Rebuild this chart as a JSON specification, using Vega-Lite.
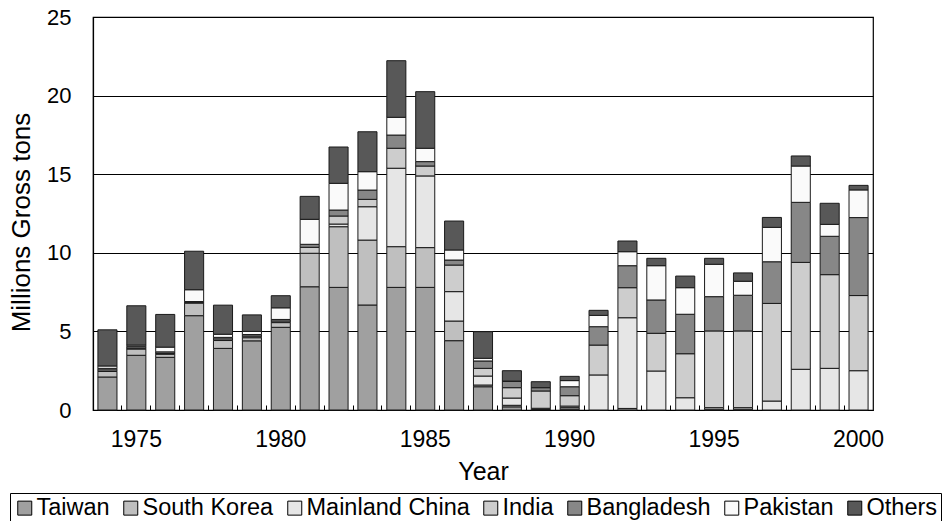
{
  "$schema": "https://vega.github.io/schema/vega-lite/v6.json",
  "autosize": {"type": "none"},
  "padding": {"left": 93, "top": 17, "right": 79, "bottom": 111},
  "width": 780,
  "height": 393,
  "config": {
    "font": "Liberation Sans",
    "view": {"stroke": "#000", "strokeWidth": 1.2},
    "axis": {"labelColor": "#000", "titleColor": "#000", "domainColor": "#000", "tickColor": "#000"}
  },
  "datasets": {
    "stackOrder": [
      {"country": "Taiwan", "rank": 1}, {"country": "South Korea", "rank": 2}, {"country": "Mainland China", "rank": 3},
      {"country": "India", "rank": 4}, {"country": "Bangladesh", "rank": 5}, {"country": "Pakistan", "rank": 6}, {"country": "Others", "rank": 7}
    ]
  },
  "data": {"values": [
    {"year":1974,"country":"Taiwan","tons":2.1},{"year":1974,"country":"South Korea","tons":0.35},{"year":1974,"country":"India","tons":0.1},{"year":1974,"country":"Bangladesh","tons":0.1},{"year":1974,"country":"Pakistan","tons":0.15},{"year":1974,"country":"Others","tons":2.3},
    {"year":1975,"country":"Taiwan","tons":3.48},{"year":1975,"country":"South Korea","tons":0.4},{"year":1975,"country":"India","tons":0.05},{"year":1975,"country":"Bangladesh","tons":0.1},{"year":1975,"country":"Pakistan","tons":0.1},{"year":1975,"country":"Others","tons":2.5},
    {"year":1976,"country":"Taiwan","tons":3.35},{"year":1976,"country":"South Korea","tons":0.2},{"year":1976,"country":"India","tons":0.05},{"year":1976,"country":"Bangladesh","tons":0.1},{"year":1976,"country":"Pakistan","tons":0.3},{"year":1976,"country":"Others","tons":2.08},
    {"year":1977,"country":"Taiwan","tons":6.0},{"year":1977,"country":"South Korea","tons":0.8},{"year":1977,"country":"India","tons":0.05},{"year":1977,"country":"Bangladesh","tons":0.05},{"year":1977,"country":"Pakistan","tons":0.75},{"year":1977,"country":"Others","tons":2.45},
    {"year":1978,"country":"Taiwan","tons":3.92},{"year":1978,"country":"South Korea","tons":0.5},{"year":1978,"country":"India","tons":0.1},{"year":1978,"country":"Bangladesh","tons":0.1},{"year":1978,"country":"Pakistan","tons":0.2},{"year":1978,"country":"Others","tons":1.85},
    {"year":1979,"country":"Taiwan","tons":4.4},{"year":1979,"country":"South Korea","tons":0.2},{"year":1979,"country":"India","tons":0.1},{"year":1979,"country":"Bangladesh","tons":0.1},{"year":1979,"country":"Pakistan","tons":0.2},{"year":1979,"country":"Others","tons":1.05},
    {"year":1980,"country":"Taiwan","tons":5.26},{"year":1980,"country":"South Korea","tons":0.3},{"year":1980,"country":"India","tons":0.1},{"year":1980,"country":"Bangladesh","tons":0.1},{"year":1980,"country":"Pakistan","tons":0.74},{"year":1980,"country":"Others","tons":0.77},
    {"year":1981,"country":"Taiwan","tons":7.84},{"year":1981,"country":"South Korea","tons":2.13},{"year":1981,"country":"India","tons":0.38},{"year":1981,"country":"Bangladesh","tons":0.19},{"year":1981,"country":"Pakistan","tons":1.59},{"year":1981,"country":"Others","tons":1.46},
    {"year":1982,"country":"Taiwan","tons":7.8},{"year":1982,"country":"South Korea","tons":3.86},{"year":1982,"country":"Mainland China","tons":0.17},{"year":1982,"country":"India","tons":0.51},{"year":1982,"country":"Bangladesh","tons":0.38},{"year":1982,"country":"Pakistan","tons":1.7},{"year":1982,"country":"Others","tons":2.31},
    {"year":1983,"country":"Taiwan","tons":6.68},{"year":1983,"country":"South Korea","tons":4.13},{"year":1983,"country":"Mainland China","tons":2.12},{"year":1983,"country":"India","tons":0.47},{"year":1983,"country":"Bangladesh","tons":0.59},{"year":1983,"country":"Pakistan","tons":1.17},{"year":1983,"country":"Others","tons":2.54},
    {"year":1984,"country":"Taiwan","tons":7.8},{"year":1984,"country":"South Korea","tons":2.59},{"year":1984,"country":"Mainland China","tons":4.99},{"year":1984,"country":"India","tons":1.27},{"year":1984,"country":"Bangladesh","tons":0.84},{"year":1984,"country":"Pakistan","tons":1.13},{"year":1984,"country":"Others","tons":3.6},
    {"year":1985,"country":"Taiwan","tons":7.8},{"year":1985,"country":"South Korea","tons":2.53},{"year":1985,"country":"Mainland China","tons":4.56},{"year":1985,"country":"India","tons":0.63},{"year":1985,"country":"Bangladesh","tons":0.28},{"year":1985,"country":"Pakistan","tons":0.85},{"year":1985,"country":"Others","tons":3.6},
    {"year":1986,"country":"Taiwan","tons":4.41},{"year":1986,"country":"South Korea","tons":1.25},{"year":1986,"country":"Mainland China","tons":1.87},{"year":1986,"country":"India","tons":1.69},{"year":1986,"country":"Bangladesh","tons":0.32},{"year":1986,"country":"Pakistan","tons":0.64},{"year":1986,"country":"Others","tons":1.84},
    {"year":1987,"country":"Taiwan","tons":1.48},{"year":1987,"country":"South Korea","tons":0.11},{"year":1987,"country":"Mainland China","tons":0.57},{"year":1987,"country":"India","tons":0.49},{"year":1987,"country":"Bangladesh","tons":0.47},{"year":1987,"country":"Pakistan","tons":0.17},{"year":1987,"country":"Others","tons":1.69},
    {"year":1988,"country":"Taiwan","tons":0.2},{"year":1988,"country":"South Korea","tons":0.1},{"year":1988,"country":"Mainland China","tons":0.46},{"year":1988,"country":"India","tons":0.66},{"year":1988,"country":"Bangladesh","tons":0.4},{"year":1988,"country":"Pakistan","tons":0.02},{"year":1988,"country":"Others","tons":0.66},
    {"year":1989,"country":"South Korea","tons":0.03},{"year":1989,"country":"Mainland China","tons":0.08},{"year":1989,"country":"India","tons":1.1},{"year":1989,"country":"Bangladesh","tons":0.21},{"year":1989,"country":"Others","tons":0.38},
    {"year":1990,"country":"Taiwan","tons":0.05},{"year":1990,"country":"South Korea","tons":0.1},{"year":1990,"country":"Mainland China","tons":0.1},{"year":1990,"country":"India","tons":0.66},{"year":1990,"country":"Bangladesh","tons":0.57},{"year":1990,"country":"Pakistan","tons":0.39},{"year":1990,"country":"Others","tons":0.27},
    {"year":1991,"country":"Mainland China","tons":2.23},{"year":1991,"country":"India","tons":1.9},{"year":1991,"country":"Bangladesh","tons":1.17},{"year":1991,"country":"Pakistan","tons":0.72},{"year":1991,"country":"Others","tons":0.32},
    {"year":1992,"country":"Taiwan","tons":0.1},{"year":1992,"country":"Mainland China","tons":5.77},{"year":1992,"country":"India","tons":1.91},{"year":1992,"country":"Bangladesh","tons":1.4},{"year":1992,"country":"Pakistan","tons":0.89},{"year":1992,"country":"Others","tons":0.68},
    {"year":1993,"country":"Mainland China","tons":2.48},{"year":1993,"country":"India","tons":2.4},{"year":1993,"country":"Bangladesh","tons":2.12},{"year":1993,"country":"Pakistan","tons":2.18},{"year":1993,"country":"Others","tons":0.47},
    {"year":1994,"country":"Mainland China","tons":0.78},{"year":1994,"country":"India","tons":2.8},{"year":1994,"country":"Bangladesh","tons":2.51},{"year":1994,"country":"Pakistan","tons":1.69},{"year":1994,"country":"Others","tons":0.74},
    {"year":1995,"country":"South Korea","tons":0.05},{"year":1995,"country":"Mainland China","tons":0.1},{"year":1995,"country":"India","tons":4.88},{"year":1995,"country":"Bangladesh","tons":2.18},{"year":1995,"country":"Pakistan","tons":2.06},{"year":1995,"country":"Others","tons":0.38},
    {"year":1996,"country":"South Korea","tons":0.05},{"year":1996,"country":"Mainland China","tons":0.1},{"year":1996,"country":"India","tons":4.88},{"year":1996,"country":"Bangladesh","tons":2.27},{"year":1996,"country":"Pakistan","tons":0.89},{"year":1996,"country":"Others","tons":0.53},
    {"year":1997,"country":"Mainland China","tons":0.57},{"year":1997,"country":"India","tons":6.21},{"year":1997,"country":"Bangladesh","tons":2.65},{"year":1997,"country":"Pakistan","tons":2.19},{"year":1997,"country":"Others","tons":0.63},
    {"year":1998,"country":"Mainland China","tons":2.59},{"year":1998,"country":"India","tons":6.8},{"year":1998,"country":"Bangladesh","tons":3.82},{"year":1998,"country":"Pakistan","tons":2.31},{"year":1998,"country":"Others","tons":0.64},
    {"year":1999,"country":"Mainland China","tons":2.65},{"year":1999,"country":"India","tons":5.96},{"year":1999,"country":"Bangladesh","tons":2.44},{"year":1999,"country":"Pakistan","tons":0.76},{"year":1999,"country":"Others","tons":1.34},
    {"year":2000,"country":"Mainland China","tons":2.5},{"year":2000,"country":"India","tons":4.78},{"year":2000,"country":"Bangladesh","tons":4.96},{"year":2000,"country":"Pakistan","tons":1.76},{"year":2000,"country":"Others","tons":0.29}
  ]},
  "transform": [
    {"lookup": "country", "from": {"data": {"name": "stackOrder"}, "key": "country", "fields": ["rank"]}}
  ],
  "mark": {"type": "bar", "width": {"band": 0.66}, "stroke": "#1a1a1a", "strokeWidth": 1},
  "encoding": {
    "x": {
      "field": "year", "type": "ordinal",
      "scale": {"paddingInner": 0, "paddingOuter": 0},
      "axis": {
        "title": "Year", "titleFontSize": 25, "titleFontWeight": "normal", "titlePadding": 8,
        "labelAngle": 0, "labelFontSize": 23,
        "labelExpr": "datum.value % 5 == 0 ? datum.value : ''",
        "bandPosition": 0, "domain": false, "offset": -5,
        "tickSize": 5, "labelPadding": 18, "zindex": 1
      }
    },
    "y": {
      "field": "tons", "type": "quantitative", "stack": "zero",
      "scale": {"domain": [0, 25], "nice": false},
      "axis": {
        "title": "Millions Gross tons", "titleFontSize": 26, "titleFontWeight": "normal", "titlePadding": 12, "titleY": 205,
        "values": [0, 5, 10, 15, 20, 25], "labelFontSize": 22,
        "ticks": false, "labelPadding": 22, "grid": true, "gridColor": "#000", "gridOpacity": 1, "gridWidth": 1,
        "domainWidth": 1.2
      }
    },
    "order": {"field": "rank", "type": "quantitative", "sort": "ascending"},
    "color": {
      "field": "country", "type": "nominal",
      "sort": ["Taiwan", "South Korea", "Mainland China", "India", "Bangladesh", "Pakistan", "Others"],
      "scale": {
        "domain": ["Taiwan", "South Korea", "Mainland China", "India", "Bangladesh", "Pakistan", "Others"],
        "range": ["#a0a0a0", "#bfbfbf", "#e6e6e6", "#cdcdcd", "#878787", "#fafafa", "#585858"]
      },
      "legend": {
        "title": null, "orient": "none", "direction": "horizontal", "columns": 7,
        "legendX": -83, "legendY": 476,
        "strokeColor": "#000", "padding": 3, "fillColor": "#fff",
        "symbolType": "square", "symbolSize": 196, "symbolStrokeColor": "#000", "symbolStrokeWidth": 1,
        "labelFontSize": 23.5, "labelColor": "#000", "labelOffset": 0, "columnPadding": 9, "labelLimit": 400
      }
    }
  }
}
